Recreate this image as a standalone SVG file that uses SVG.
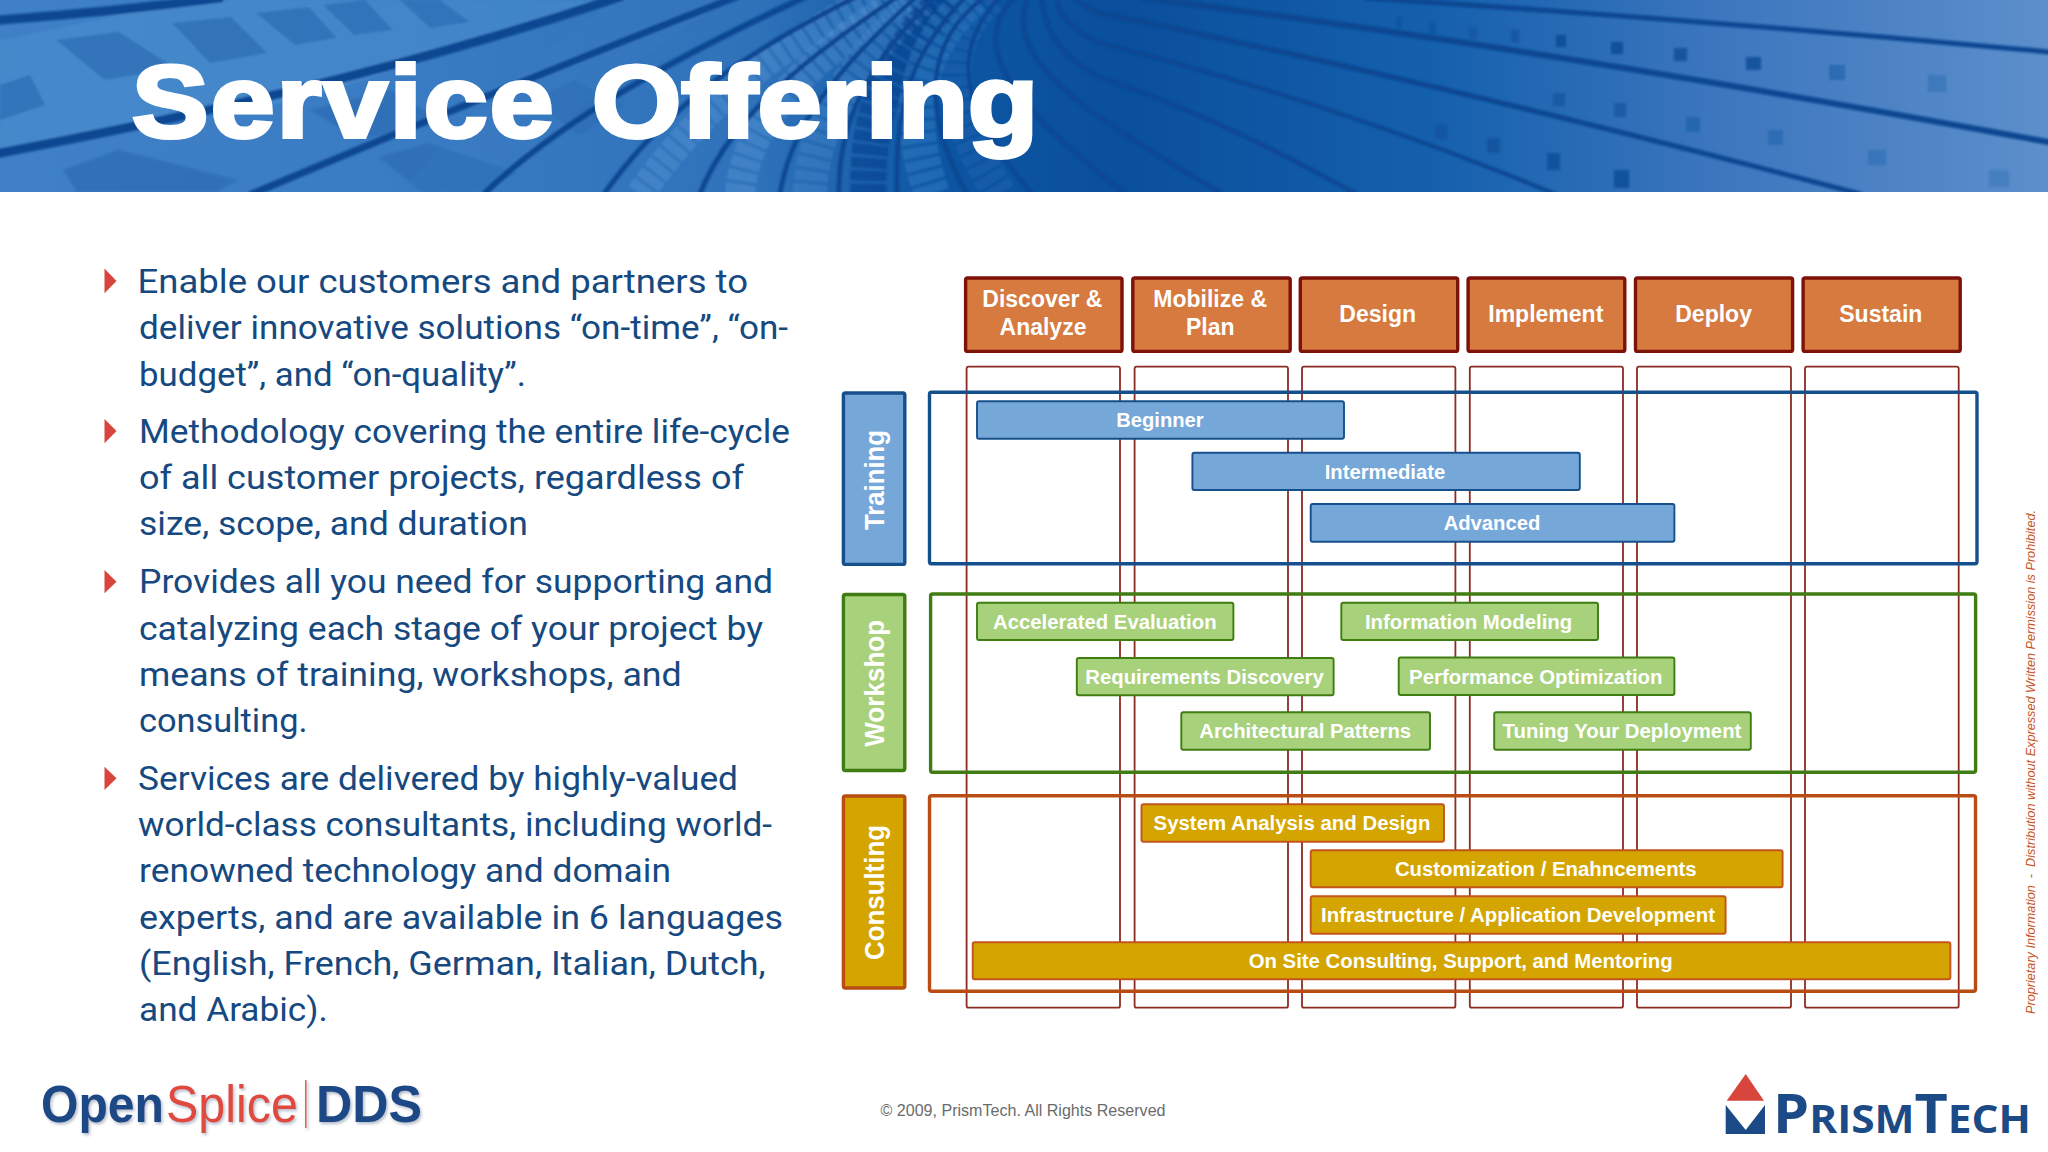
<svg xmlns="http://www.w3.org/2000/svg" width="2048" height="1152" viewBox="0 0 2048 1152">
<defs>
<linearGradient id="sky" x1="0" x2="1" y1="0" y2="0">
<stop offset="0" stop-color="#3f80c6"/><stop offset="0.2" stop-color="#3a7cc3"/><stop offset="0.37" stop-color="#2f72ba"/><stop offset="0.46" stop-color="#0d55a2"/><stop offset="0.55" stop-color="#0a4f9c"/><stop offset="0.7" stop-color="#1560ad"/><stop offset="0.85" stop-color="#3f78bf"/><stop offset="1" stop-color="#5c8fcb"/>
</linearGradient>
<filter id="soft" x="-2%" y="-5%" width="104%" height="110%"><feGaussianBlur stdDeviation="1.3"/></filter>
<filter id="logoShadow" x="-5%" y="-20%" width="110%" height="150%"><feDropShadow dx="1.5" dy="2" stdDeviation="1.6" flood-color="#8090a8" flood-opacity="0.6"/></filter>
<clipPath id="bannerClip"><rect width="2048" height="192"/></clipPath>
<style>
text{font-family:"Liberation Sans",Arial,sans-serif}
.body{font-family:Roboto,"Liberation Sans",sans-serif;font-size:34px;fill:#16497f;font-weight:400}
.bullet{fill:#d8453c}
.head rect{fill:#d67a40;stroke:#7c1208;stroke-width:3.4}
.head text{font-size:23px;font-weight:700;fill:#fff;text-anchor:middle}
.col{fill:none;stroke:#8b2c22;stroke-width:1.8}
.side{stroke-width:3.4}
.side text{font-size:28px;font-weight:700;fill:#fff;text-anchor:middle}
.frame{fill:none;stroke-width:3.4}
.bar text{font-size:20px;font-weight:700;fill:#fff;text-anchor:middle}
.blue rect.b{fill:#76a7d9;stroke:#15508c}
.green rect.b{fill:#a8d17b;stroke:#3f7c12}
.gold rect.b{fill:#d4a500;stroke:#c4541e}
rect.b{stroke-width:1.9}
.band{fill:none;stroke:#0a4792;stroke-linecap:round}
.strip{fill:none;stroke-dasharray:10 3}
.tile{fill:#2e6eb4;opacity:.75}
.tile2{fill:#0e4f9a}
</style>
</defs>
<rect width="2048" height="1152" fill="#fff"/>

<g id="banner" clip-path="url(#bannerClip)">
<rect width="2048" height="192" fill="url(#sky)"/>
<g filter="url(#soft)">
<path d="M190 0L620 0L300 100L0 150L0 40Z" fill="#4d8fd0" opacity=".55"/>
<polygon class="tile" points="56,40 119,32 175,68 105,80"/>
<polygon class="tile" points="172,23 231,17 267,53 210,63"/>
<polygon class="tile" points="256,13 309,7 337,38 295,45"/>
<polygon class="tile" points="323,5 365,0 393,30 354,35"/>
<polygon class="tile" points="400,0 440,0 470,22 430,28"/>
<polygon class="tile" points="63,170 119,150 238,180 217,192 77,192"/>
<polygon class="tile" points="379,157 428,143 519,173 477,192 421,192"/>
<polygon class="tile" points="530,100 575,80 625,105 580,135" opacity=".5"/>
<polygon class="tile" points="310,110 390,90 440,120 360,140" opacity=".4"/>
<polygon class="tile" points="0,85 30,75 45,105 0,120"/>
<path d="M620 -3C560 40 500 80 400 192L500 192C580 100 660 40 736 -3Z" fill="#3a7cc4" opacity=".25"/>
<path class="strip" stroke="#6ba6e0" stroke-width="28" opacity=".3" d="M640 194C690 125 750 60 875 -3"/>
<path class="strip" stroke="#6ba6e0" stroke-width="30" opacity=".3" d="M740 194C745 130 790 70 905 -3"/>
<path class="strip" stroke="#4a8ccc" stroke-width="34" opacity=".38" d="M810 194C812 130 845 70 923 -3"/>
<path class="strip" stroke="#0a3a86" stroke-width="36" opacity=".5" d="M868 194C868 120 882 65 948 -3"/>
<path class="strip" stroke="#3a86c8" stroke-width="36" opacity=".42" d="M932 194C905 115 912 55 973 -3"/>
<path class="strip" stroke="#2a6cb8" stroke-width="34" opacity=".3" d="M1000 194C950 115 935 50 990 -3"/>
<path class="band" stroke-width="9" d="M0 20Q110 12 220 -2"/>
<path class="band" stroke-width="9" d="M0 153C200 115 400 70 620 -3"/>
<path class="band" stroke-width="7" d="M252 194C380 140 560 65 736 -3"/>
<path class="band" stroke-width="6" d="M484 194C560 120 680 55 805 -3"/>
<path class="band" stroke-width="5" d="M604 194C660 115 730 60 856 -3"/>
<path class="band" stroke-width="5" d="M700 194C725 130 780 75 897 -3"/>
<path class="band" stroke-width="4.5" d="M780 194C790 130 830 75 916 -3"/>
<path class="band" stroke-width="4.5" d="M839 194C838 125 865 65 935 -3"/>
<path class="band" stroke-width="4.5" d="M897 194C895 115 905 60 965 -3"/>
<path class="band" stroke-width="4.5" d="M967 194C920 110 925 40 985 -3"/>
<path class="band" stroke-width="4" d="M1032 194C965 115 945 55 1000 -3"/>
<path class="band" stroke-width="4" d="M1126 194C1030 120 960 50 1015 -3"/>
<path class="band" stroke-width="4" d="M1222 194C1100 120 1000 65 1028 -3"/>
<path class="band" stroke-width="4" d="M1356 194Q1225 120 1100 77Q1045 50 1042 -3"/>
<path class="band" stroke-width="4" d="M1555 194Q1342 105 1100 43Q1060 25 1056 -3"/>
<path class="band" stroke-width="5" d="M1860 194Q1450 85 1100 13Q1085 8 1072 -3"/>
<path class="band" stroke-width="6" d="M2048 142Q1523 45 1142 -2"/>
<path class="band" stroke-width="5" d="M2048 52Q1705 20 1366 -2"/>
<g class="tile2">
<rect x="1396" y="17" width="6" height="11" opacity=".4"/><rect x="1429" y="22" width="7" height="12" opacity=".45"/><rect x="1469" y="27" width="8" height="12" opacity=".55"/><rect x="1511" y="30" width="8" height="12" opacity=".65"/>
<rect x="1556" y="35" width="10" height="12" opacity=".95"/><rect x="1611" y="42" width="12" height="12" opacity=".95"/><rect x="1674" y="48" width="13" height="13" opacity=".85"/><rect x="1746" y="57" width="15" height="13" opacity=".85"/>
<rect x="1829" y="65" width="16" height="15" opacity=".4"/><rect x="1928" y="75" width="18" height="17" opacity=".25"/>
<rect x="1553" y="93" width="12" height="13" opacity=".6"/><rect x="1614" y="103" width="12" height="14" opacity=".6"/><rect x="1686" y="117" width="14" height="15" opacity=".35"/><rect x="1768" y="130" width="15" height="15" opacity=".3"/><rect x="1868" y="150" width="18" height="15" opacity=".25"/><rect x="1989" y="170" width="20" height="17" opacity=".2"/>
<rect x="1435" y="125" width="12" height="14" opacity=".6"/><rect x="1487" y="138" width="13" height="15" opacity=".7"/><rect x="1547" y="153" width="13" height="17" opacity=".85"/><rect x="1614" y="170" width="15" height="18" opacity=".9"/>
</g>
</g>
<text x="132" y="137" font-size="102" font-weight="700" fill="#fff" stroke="#fff" stroke-width="4" style="word-spacing:4px" textLength="906" lengthAdjust="spacingAndGlyphs"><tspan style="letter-spacing:2px">Service</tspan> Offering</text>
</g>

<g id="bullets">
<polygon class="bullet" points="104.5,268.5 116.5,281 104.5,293.2"/>
<polygon class="bullet" points="104.5,419 116.5,431 104.5,443.2"/>
<polygon class="bullet" points="104.5,570 116.5,581.7 104.5,593.3"/>
<polygon class="bullet" points="104.5,766.7 116.5,778.3 104.5,790"/>
</g>
<g id="body-text" class="body">
<text class="body" x="137.5" y="293" textLength="610.5" lengthAdjust="spacingAndGlyphs">Enable our customers and partners to</text>
<text class="body" x="139" y="339.2" textLength="649" lengthAdjust="spacingAndGlyphs">deliver innovative solutions “on-time”, “on-</text>
<text class="body" x="139" y="385.5" textLength="387" lengthAdjust="spacingAndGlyphs">budget”, and “on-quality”.</text>
<text class="body" x="139" y="442.8" textLength="651" lengthAdjust="spacingAndGlyphs">Methodology covering the entire life-cycle</text>
<text class="body" x="139" y="489" textLength="605" lengthAdjust="spacingAndGlyphs">of all customer projects, regardless of</text>
<text class="body" x="139" y="535.3" textLength="389" lengthAdjust="spacingAndGlyphs">size, scope, and duration</text>
<text class="body" x="139" y="593.3" textLength="634" lengthAdjust="spacingAndGlyphs">Provides all you need for supporting and</text>
<text class="body" x="139" y="639.5" textLength="624" lengthAdjust="spacingAndGlyphs">catalyzing each stage of your project by</text>
<text class="body" x="139" y="686" textLength="542.7" lengthAdjust="spacingAndGlyphs">means of training, workshops, and</text>
<text class="body" x="139" y="732.3" textLength="168.5" lengthAdjust="spacingAndGlyphs">consulting.</text>
<text class="body" x="138" y="790" textLength="600" lengthAdjust="spacingAndGlyphs">Services are delivered by highly-valued</text>
<text class="body" x="138" y="836.2" textLength="634" lengthAdjust="spacingAndGlyphs">world-class consultants, including world-</text>
<text class="body" x="139" y="882.4" textLength="532" lengthAdjust="spacingAndGlyphs">renowned technology and domain</text>
<text class="body" x="139" y="928.7" textLength="644" lengthAdjust="spacingAndGlyphs">experts, and are available in 6 languages</text>
<text class="body" x="139" y="975" textLength="626.7" lengthAdjust="spacingAndGlyphs">(English, French, German, Italian, Dutch,</text>
<text class="body" x="139" y="1021.3" textLength="188.8" lengthAdjust="spacingAndGlyphs">and Arabic).</text>
</g>

<g id="column-frames">
<rect class="col" x="966.6" y="366.7" width="153.4" height="641" rx="2"/>
<rect class="col" x="1134.6" y="366.7" width="153.4" height="641" rx="2"/>
<rect class="col" x="1302" y="366.7" width="153.4" height="641" rx="2"/>
<rect class="col" x="1469.8" y="366.7" width="153.2" height="641" rx="2"/>
<rect class="col" x="1637" y="366.7" width="154" height="641" rx="2"/>
<rect class="col" x="1805" y="366.7" width="153.7" height="641" rx="2"/>
</g>

<g id="phase-discover" class="head"><rect x="965.6" y="278" width="156.4" height="73.4" rx="2"/><text x="1042.4" y="307.3">Discover &amp;</text><text x="1043" y="335.3">Analyze</text></g>
<g id="phase-mobilize" class="head"><rect x="1132.8" y="278" width="157.4" height="73.4" rx="2"/><text x="1210.2" y="307.3">Mobilize &amp;</text><text x="1210.3" y="335.3">Plan</text></g>
<g id="phase-design" class="head"><rect x="1300.3" y="278" width="157.4" height="73.4" rx="2"/><text x="1377.7" y="321.7">Design</text></g>
<g id="phase-implement" class="head"><rect x="1468.1" y="278" width="156.7" height="73.4" rx="2"/><text x="1545.8" y="321.7">Implement</text></g>
<g id="phase-deploy" class="head"><rect x="1635.5" y="278" width="157.1" height="73.4" rx="2"/><text x="1713.6" y="321.7">Deploy</text></g>
<g id="phase-sustain" class="head"><rect x="1803.1" y="278" width="157.1" height="73.4" rx="2"/><text x="1880.8" y="321.7">Sustain</text></g>

<g id="training">
<g class="side"><rect x="843.4" y="393" width="61.4" height="171.4" rx="2" fill="#76a7d9" stroke="#15508c"/><text transform="translate(884 480) rotate(-90)" textLength="100" lengthAdjust="spacingAndGlyphs">Training</text></g>
<rect class="frame" x="929.5" y="392.3" width="1047.5" height="171.4" rx="2" stroke="#15508c"/>
</g>
<g id="workshop">
<g class="side"><rect x="843.4" y="594.5" width="61.4" height="176" rx="2" fill="#a8d17b" stroke="#3f7c12"/><text transform="translate(884 683.3) rotate(-90)" textLength="127" lengthAdjust="spacingAndGlyphs">Workshop</text></g>
<rect class="frame" x="930.6" y="594" width="1045" height="178.3" rx="2" stroke="#3f7c12"/>
</g>
<g id="consulting">
<g class="side"><rect x="843.4" y="796" width="61.4" height="192" rx="2" fill="#d4a500" stroke="#b84c12"/><text transform="translate(884 892.5) rotate(-90)" textLength="135" lengthAdjust="spacingAndGlyphs">Consulting</text></g>
<rect class="frame" x="929.5" y="795.7" width="1046" height="195.6" rx="2" stroke="#b84c12"/>
</g>

<g class="bar blue">
<g id="bar-beginner"><rect class="b" x="977" y="401.3" width="367" height="37.4" rx="2"/><text x="1159.9" y="427" textLength="87.5" lengthAdjust="spacingAndGlyphs">Beginner</text></g>
<g id="bar-intermediate"><rect class="b" x="1192.4" y="452.7" width="387.4" height="37.3" rx="2"/><text x="1385" y="478.7" textLength="120.7" lengthAdjust="spacingAndGlyphs">Intermediate</text></g>
<g id="bar-advanced"><rect class="b" x="1310.7" y="504" width="363.7" height="37.7" rx="2"/><text x="1492" y="530" textLength="96.7" lengthAdjust="spacingAndGlyphs">Advanced</text></g>
</g>
<g class="bar green">
<g id="bar-accelerated"><rect class="b" x="977" y="602.7" width="256.4" height="37.3" rx="2"/><text x="1104.8" y="629" textLength="223.5" lengthAdjust="spacingAndGlyphs">Accelerated Evaluation</text></g>
<g id="bar-information"><rect class="b" x="1341.3" y="602.7" width="256.7" height="37.3" rx="2"/><text x="1468.6" y="629" textLength="207.3" lengthAdjust="spacingAndGlyphs">Information Modeling</text></g>
<g id="bar-requirements"><rect class="b" x="1076.8" y="658" width="256.8" height="37.3" rx="2"/><text x="1204.5" y="684" textLength="238.4" lengthAdjust="spacingAndGlyphs">Requirements Discovery</text></g>
<g id="bar-performance"><rect class="b" x="1398.7" y="657.5" width="275.7" height="37.5" rx="2"/><text x="1535.8" y="684" textLength="253.4" lengthAdjust="spacingAndGlyphs">Performance Optimization</text></g>
<g id="bar-architectural"><rect class="b" x="1181.3" y="712.3" width="248.7" height="37.4" rx="2"/><text x="1305.2" y="738.3" textLength="211.7" lengthAdjust="spacingAndGlyphs">Architectural Patterns</text></g>
<g id="bar-tuning"><rect class="b" x="1494.2" y="712.3" width="256.6" height="37.4" rx="2"/><text x="1622" y="738.3" textLength="238.8" lengthAdjust="spacingAndGlyphs">Tuning Your Deployment</text></g>
</g>
<g class="bar gold">
<g id="bar-system"><rect class="b" x="1141.5" y="804.3" width="302.5" height="37.4" rx="2"/><text x="1292" y="830" textLength="276.8" lengthAdjust="spacingAndGlyphs">System Analysis and Design</text></g>
<g id="bar-customization"><rect class="b" x="1310.7" y="850.3" width="471.9" height="37" rx="2"/><text x="1545.8" y="876" textLength="301.8" lengthAdjust="spacingAndGlyphs">Customization / Enahncements</text></g>
<g id="bar-infrastructure"><rect class="b" x="1310.7" y="896.3" width="414.9" height="37.4" rx="2"/><text x="1518" y="922.3" textLength="393.9" lengthAdjust="spacingAndGlyphs">Infrastructure / Application Development</text></g>
<g id="bar-onsite"><rect class="b" x="972.7" y="942.3" width="977.7" height="37" rx="2"/><text x="1460.7" y="968" textLength="424" lengthAdjust="spacingAndGlyphs">On Site Consulting, Support, and Mentoring</text></g>
</g>

<text id="notice" transform="translate(2035 1014) rotate(-90)" font-size="13.5" font-style="italic" fill="#c8521c" style="white-space:pre" textLength="504" lengthAdjust="spacingAndGlyphs">Proprietary Information  -  Distribution without Expressed Written Permission is Prohibited.</text>

<text id="copyright" x="880.5" y="1116" font-size="16.5" fill="#6b6b6b" textLength="285" lengthAdjust="spacingAndGlyphs">© 2009, PrismTech. All Rights Reserved</text>

<g id="logo-opensplice" filter="url(#logoShadow)">
<text x="41" y="1121.7" font-size="52" font-weight="700" fill="#1c4a86" textLength="123" lengthAdjust="spacingAndGlyphs">Open</text>
<text x="166" y="1121.7" font-size="52" fill="#e0483c" textLength="132" lengthAdjust="spacingAndGlyphs">Splice</text>
<rect x="305" y="1080" width="1.6" height="48" fill="#e0685c"/>
<text x="316" y="1121.7" font-size="52" font-weight="700" fill="#1c4a86" textLength="106" lengthAdjust="spacingAndGlyphs">DDS</text>
</g>

<g id="logo-prismtech">
<polygon points="1745.7,1074 1764,1100.7 1726.7,1100.7" fill="#d8453c"/>
<polygon points="1725.7,1105 1745.7,1130 1765,1105 1765,1134 1725.7,1134" fill="#1c4a86"/>
<text y="1132.7" x="1773" fill="#1c4a86" style="font-family:'Open Sans','Liberation Sans',sans-serif;font-weight:700" textLength="258" lengthAdjust="spacingAndGlyphs"><tspan font-size="53">P</tspan><tspan font-size="39">RISM</tspan><tspan font-size="53">T</tspan><tspan font-size="39">ECH</tspan></text>
</g>
</svg>
